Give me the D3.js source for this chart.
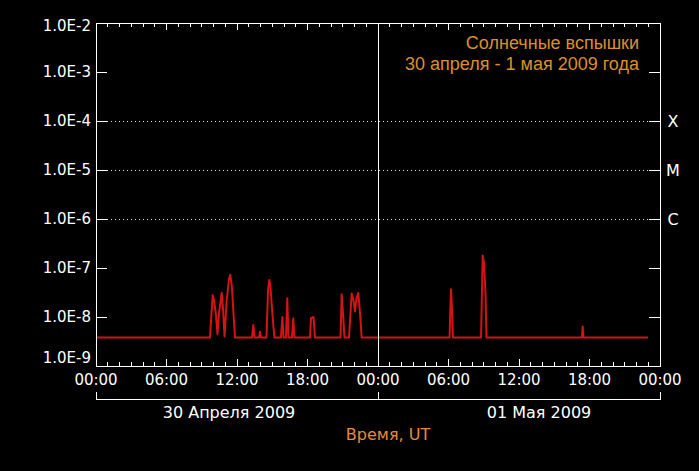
<!DOCTYPE html>
<html><head><meta charset="utf-8">
<script src="https://cdn.jsdelivr.net/npm/d3@7/dist/d3.min.js"></script>
<style>html,body{margin:0;padding:0;background:#000;} svg{display:block}</style>
</head><body>
<svg id="chart" width="699" height="471"></svg>
<script>
// ---- data ----
const yTickValues = [1e-2, 1e-3, 1e-4, 1e-5, 1e-6, 1e-7, 1e-8, 1e-9];
const yTickLabels = ["1.0E-2", "1.0E-3", "1.0E-4", "1.0E-5", "1.0E-6", "1.0E-7", "1.0E-8", "1.0E-9"];
const classLevels = [1e-4, 1e-5, 1e-6];
const classLabels = ["X", "M", "C"];
const xMajorHours = [0, 6, 12, 18, 24, 30, 36, 42, 48];
const xTickLabels = ["00:00", "06:00", "12:00", "18:00", "00:00", "06:00", "12:00", "18:00", "00:00"];
const dayLabels = ["30 Апреля 2009", "01 Мая 2009"];
const dayStartHours = [0, 24];
const title = ["Солнечные вспышки", "30 апреля - 1 мая 2009 года"];
const xTitle = "Время, UT";
// GOES X-ray flux, hours since 2009-04-30 00:00 UT
const fluxHours = [0, 9.70, 9.93, 10.04, 10.21, 10.34, 10.47, 10.70, 10.81, 10.94, 11.11, 11.32, 11.43, 11.57, 11.70, 11.83,
  13.28, 13.39, 13.49, 13.87, 13.96, 14.04, 14.51, 14.64, 14.75, 14.85, 14.98, 15.11, 15.19,
  15.74, 15.86, 15.96, 16.17, 16.28, 16.38, 16.68, 16.79, 16.89, 18.21, 18.30, 18.51, 18.64,
  20.81, 20.91, 21.02, 21.15, 21.53, 21.76, 21.91, 22.04, 22.17, 22.32, 22.47, 22.61,
  30.09, 30.21, 30.30, 30.38, 32.77, 32.91, 33.02, 33.15, 33.23, 41.36, 41.42, 41.49, 46.98];
const fluxValues = [3.8e-9, 3.8e-9, 2.8e-8, 2.2e-8, 1.1e-8, 4.5e-9, 1.2e-8, 3.1e-8, 1.5e-8, 4.0e-9, 2.0e-8, 6.0e-8, 7.3e-8, 4.0e-8, 1.2e-8, 3.8e-9,
  3.8e-9, 6.9e-9, 3.8e-9, 3.8e-9, 5.0e-9, 3.8e-9, 3.8e-9, 3.5e-8, 5.7e-8, 4.0e-8, 1.5e-8, 6.0e-9, 3.8e-9,
  3.8e-9, 1.0e-8, 3.8e-9, 3.8e-9, 2.4e-8, 3.8e-9, 3.8e-9, 9.4e-9, 3.8e-9, 3.8e-9, 9.5e-9, 1.0e-8, 3.8e-9,
  3.8e-9, 2.9e-8, 1.2e-8, 3.8e-9, 3.8e-9, 3.0e-8, 2.2e-8, 1.3e-8, 2.4e-8, 3.1e-8, 1.2e-8, 3.8e-9,
  3.8e-9, 3.7e-8, 1.5e-8, 3.8e-9, 3.8e-9, 1.8e-7, 1.3e-7, 3.0e-8, 3.8e-9, 3.8e-9, 6.4e-9, 3.8e-9, 3.8e-9];

// ---- layout ----
const L = 96, R = 660, T = 23, B = 366;
const FONT = "'DejaVu Sans', Verdana, sans-serif";
const svg = d3.select("#chart");
svg.append("rect").attr("width", 699).attr("height", 471).attr("fill", "#000");

const x = d3.scaleLinear().domain([0, 48]).range([L, R]);
const y = d3.scaleLog().domain([1e-9, 1e-2]).range([B, T]);
const hours = d3.range(0, 49);

// gridlines (dotted)
svg.append("g").selectAll("line").data(classLevels).join("line")
  .attr("x1", L + 11).attr("x2", R - 11)
  .attr("y1", d => y(d)).attr("y2", d => y(d))
  .attr("stroke", "#ddd").attr("stroke-width", 1).attr("stroke-dasharray", "1,3")
  .attr("shape-rendering", "crispEdges");

// data line
const line = d3.line().x((d, i) => x(fluxHours[i])).y(d => y(d));
svg.append("path").datum(fluxValues)
  .attr("d", line).attr("fill", "none")
  .attr("stroke", "#d41313").attr("stroke-width", 2).attr("stroke-linejoin", "round");

const g = svg.append("g").attr("stroke", "#fff").attr("stroke-width", 1).attr("shape-rendering", "crispEdges");
// frame
g.append("rect").attr("x", L).attr("y", T).attr("width", R - L).attr("height", B - T).attr("fill", "none");
// midnight line
g.append("line").attr("x1", x(24)).attr("x2", x(24)).attr("y1", T).attr("y2", B);
// left/right decade ticks
g.selectAll(".lt").data(yTickValues).join("line")
  .attr("x1", L).attr("x2", L + 11).attr("y1", d => y(d)).attr("y2", d => y(d));
g.selectAll(".rt").data(yTickValues).join("line")
  .attr("x1", R - 11).attr("x2", R).attr("y1", d => y(d)).attr("y2", d => y(d));
// hour ticks bottom & top
g.selectAll(".bt").data(hours).join("line")
  .attr("x1", d => x(d)).attr("x2", d => x(d))
  .attr("y1", B).attr("y2", d => B - (d % 6 === 0 ? 7 : 4));
g.selectAll(".tt").data(hours).join("line")
  .attr("x1", d => x(d)).attr("x2", d => x(d))
  .attr("y1", T).attr("y2", d => T + (d % 6 === 0 ? 7 : 4));
// day brackets
dayStartHours.forEach(h => {
  g.append("path").attr("fill", "none")
    .attr("d", `M${x(h)},392V399H${x(h + 24)}V392`);
});

// y labels
svg.append("g").selectAll("text").data(yTickValues).join("text")
  .attr("x", 91).attr("y", (d, i) => y(d) + (i === 0 ? 3 : i === yTickValues.length - 1 ? -8 : 0))
  .attr("dy", "0.36em").attr("text-anchor", "end")
  .attr("fill", "#fff").attr("font-family", FONT).attr("font-size", 15)
  .text((d, i) => yTickLabels[i]);
// class labels
svg.append("g").selectAll("text").data(classLevels).join("text")
  .attr("x", 673).attr("y", d => y(d)).attr("dy", "0.36em").attr("text-anchor", "middle")
  .attr("fill", "#fff").attr("font-family", FONT).attr("font-size", 16)
  .text((d, i) => classLabels[i]);
// x labels
svg.append("g").selectAll("text").data(xMajorHours).join("text")
  .attr("x", d => x(d)).attr("y", 380).attr("dy", "0.36em").attr("text-anchor", "middle")
  .attr("fill", "#fff").attr("font-family", FONT).attr("font-size", 15)
  .text((d, i) => xTickLabels[i]);
// day labels
const dayCenters = [229, 539];
svg.append("g").selectAll("text").data(dayLabels).join("text")
  .attr("x", (d, i) => dayCenters[i]).attr("y", 412).attr("dy", "0.36em").attr("text-anchor", "middle")
  .attr("fill", "#fff").attr("font-family", FONT).attr("font-size", 16)
  .text(d => d);
// x title
svg.append("text").attr("x", 388).attr("y", 434).attr("dy", "0.36em").attr("text-anchor", "middle")
  .attr("fill", "#e68a3e").attr("font-family", FONT).attr("font-size", 16).text(xTitle);
// chart title
svg.append("g").selectAll("text").data(title).join("text")
  .attr("x", 639).attr("y", (d, i) => 43 + i * 21).attr("dy", "0.36em").attr("text-anchor", "end")
  .attr("fill", "#dc8f2c").attr("font-family", "'Liberation Sans', Arial, sans-serif").attr("font-size", 18)
  .text(d => d);
</script>
</body></html>
